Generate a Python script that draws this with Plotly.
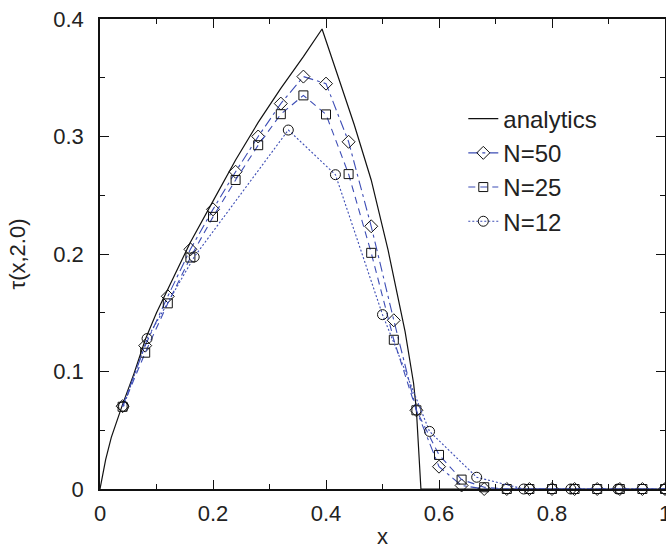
import plotly.graph_objects as go

# ---- data ----
analytic_x = [0.0, 0.005, 0.01, 0.02, 0.04, 0.06, 0.08, 0.10, 0.12, 0.14, 0.16,
              0.20, 0.24, 0.28, 0.32, 0.36, 0.393, 0.42, 0.45, 0.48, 0.51,
              0.54, 0.555, 0.56, 0.568, 1.0]
analytic_y = [0.0, 0.014, 0.025, 0.044, 0.072, 0.098, 0.127, 0.150, 0.170, 0.191, 0.210,
              0.245, 0.280, 0.312, 0.341, 0.368, 0.3915, 0.353, 0.310, 0.263, 0.203,
              0.134, 0.090, 0.067, 0.0, 0.0]

n50_x = [0.04, 0.08, 0.12, 0.16, 0.20, 0.24, 0.28, 0.32, 0.36, 0.40, 0.44, 0.48, 0.52,
         0.56, 0.60, 0.64, 0.68, 0.72, 0.76, 0.80, 0.84, 0.88, 0.92, 0.96, 1.00]
n50_y = [0.0705, 0.122, 0.164, 0.204, 0.238, 0.270, 0.300, 0.328, 0.351, 0.345, 0.2955,
         0.2236, 0.1436, 0.067, 0.019, 0.003, 0.0, 0.0, 0.0, 0.0, 0.0, 0.0, 0.0, 0.0, 0.0]

n25_x = [0.04, 0.08, 0.12, 0.16, 0.20, 0.24, 0.28, 0.32, 0.36, 0.40, 0.44, 0.48, 0.52,
         0.56, 0.60, 0.64, 0.68, 0.72, 0.76, 0.80, 0.84, 0.88, 0.92, 0.96, 1.00]
n25_y = [0.070, 0.116, 0.158, 0.197, 0.2316, 0.263, 0.2926, 0.319, 0.335, 0.3188, 0.268,
         0.201, 0.127, 0.067, 0.029, 0.008, 0.0015, 0.0, 0.0, 0.0, 0.0, 0.0, 0.0, 0.0, 0.0]

n12_x = [0.0417, 0.0833, 0.1667, 0.3333, 0.4167, 0.5, 0.5833, 0.6667, 0.75, 0.8333,
         0.9167, 1.0]
n12_y = [0.0703, 0.128, 0.1975, 0.3055, 0.2675, 0.1484, 0.049, 0.010, 0.0, 0.0, 0.0, 0.0]

x_ticks = [0, 0.2, 0.4, 0.6, 0.8, 1]
x_ticklabels = ["0", "0.2", "0.4", "0.6", "0.8", "1"]
y_ticks = [0, 0.1, 0.2, 0.3, 0.4]
y_ticklabels = ["0", "0.1", "0.2", "0.3", "0.4"]

BLUE = "#3d4db5"
FONT = "Liberation Sans, Arial, sans-serif"

fig = go.Figure()
fig.add_trace(go.Scatter(x=analytic_x, y=analytic_y, mode="lines", name="analytics",
                         line=dict(color="#111111", width=1.2),
                         legendgroup="a", cliponaxis=False))
fig.add_trace(go.Scatter(x=n50_x, y=n50_y, mode="lines+markers", name="N=50",
                         line=dict(color=BLUE, width=1.1, dash="10px,4px,3px,4px"),
                         marker=dict(symbol="diamond-open", size=10, color="#111111",
                                     line=dict(width=1)),
                         legendgroup="b", cliponaxis=False))
fig.add_trace(go.Scatter(x=n25_x, y=n25_y, mode="lines+markers", name="N=25",
                         line=dict(color=BLUE, width=1.1, dash="7px,5px"),
                         marker=dict(symbol="square-open", size=9, color="#111111",
                                     line=dict(width=1)),
                         legendgroup="c", cliponaxis=False))
fig.add_trace(go.Scatter(x=n12_x, y=n12_y, mode="lines+markers", name="N=12",
                         line=dict(color=BLUE, width=1.1, dash="2px,2px"),
                         marker=dict(symbol="circle-open", size=10, color="#111111",
                                     line=dict(width=1)),
                         legendgroup="d", cliponaxis=False))

axis_common = dict(
    showline=True, linecolor="#111111", linewidth=1.6, mirror="allticks",
    ticks="inside", ticklen=9, tickwidth=1.3, tickcolor="#111111",
    showgrid=False, zeroline=False, ticklabeloverflow="allow",
    tickfont=dict(family=FONT, size=22, color="#222222"),
)

fig.update_xaxes(range=[0, 1], tickvals=x_ticks, ticktext=x_ticklabels,
                 minor=dict(dtick=0.1, ticks="inside", ticklen=5, tickcolor="#111111",
                            tickwidth=1.1, showgrid=False),
                 title=dict(text="x", font=dict(family=FONT, size=22, color="#222222"),
                            standoff=3),
                 ticklabelstandoff=4,
                 **axis_common)
fig.update_yaxes(range=[0, 0.4], tickvals=y_ticks, ticktext=y_ticklabels,
                 minor=dict(dtick=0.05, ticks="inside", ticklen=5, tickcolor="#111111",
                            tickwidth=1.1, showgrid=False),
                 title=dict(text="τ(x,2.0)", font=dict(family=FONT, size=22, color="#222222"),
                            standoff=22),
                 ticklabelstandoff=10,
                 **axis_common)

fig.update_layout(
    width=666, height=554,
    margin=dict(l=100, r=1, t=19, b=65, autoexpand=False),
    plot_bgcolor="white", paper_bgcolor="white",
    font=dict(family=FONT, size=22, color="#222222"),
    legend=dict(x=0.643, y=0.835, xanchor="left", yanchor="top",
                bgcolor="rgba(0,0,0,0)", borderwidth=0,
                font=dict(family=FONT, size=24, color="#222222"),
                traceorder="grouped", tracegroupgap=0),
)

fig.write_html("out.html")
